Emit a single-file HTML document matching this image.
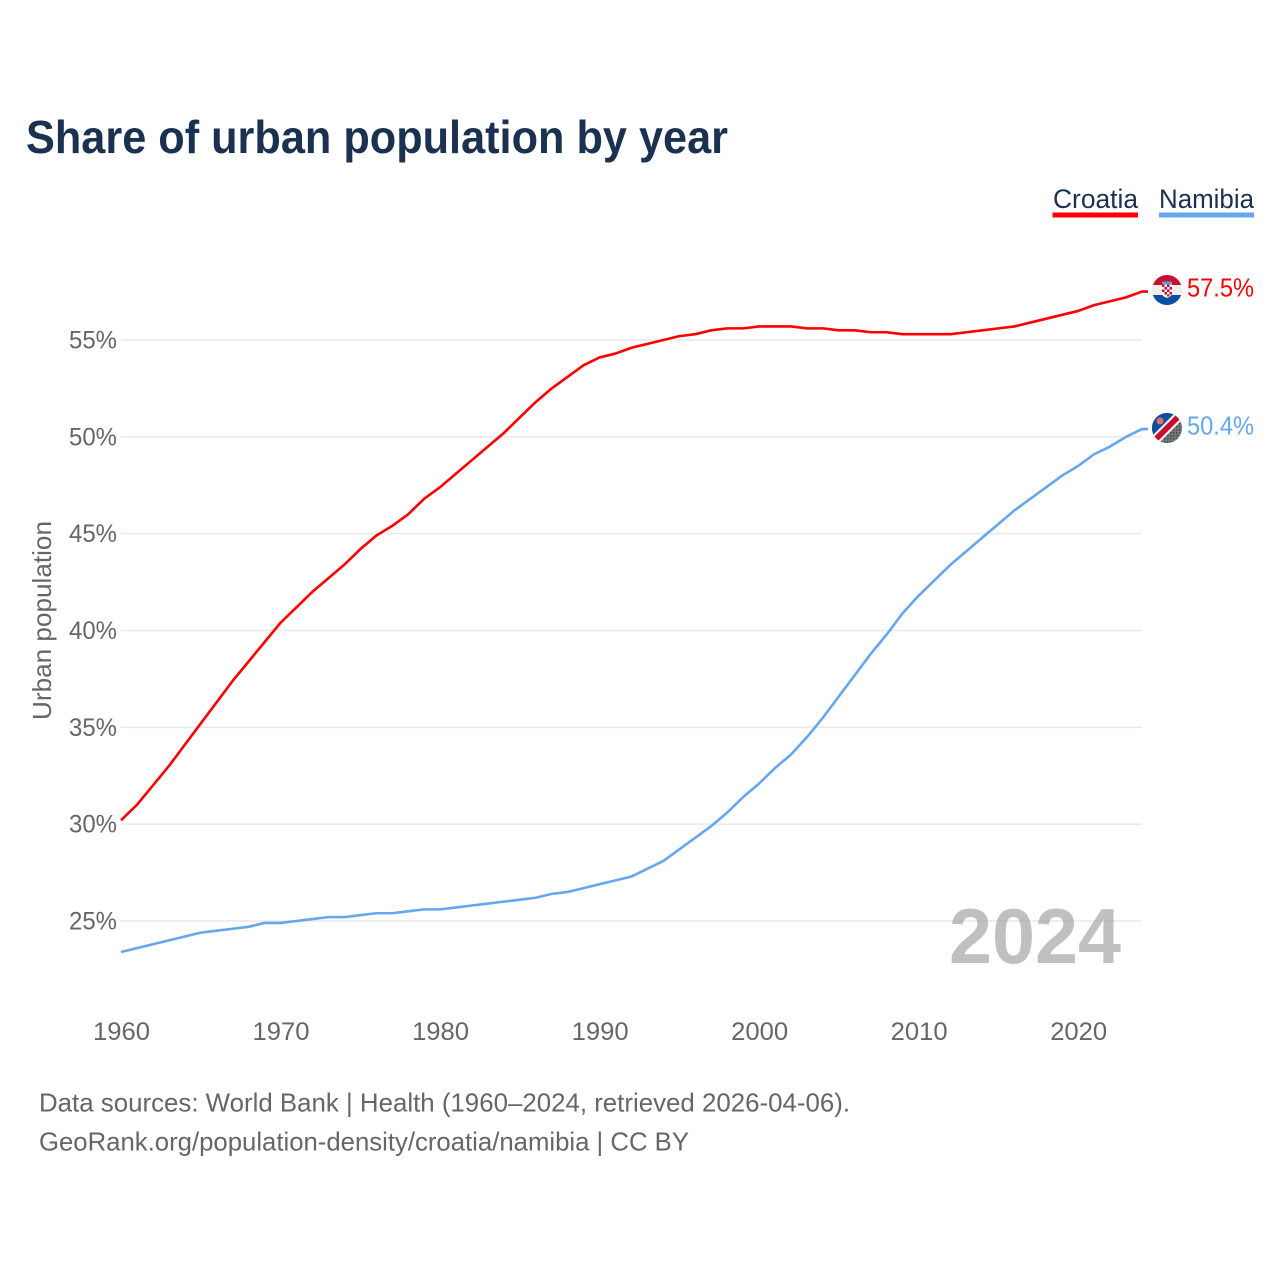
<!DOCTYPE html>
<html lang="en">
<head>
<meta charset="utf-8">
<title>Share of urban population by year</title>
<style>
html,body{margin:0;padding:0;background:#fff;}
svg{display:block;font-family:"Liberation Sans",sans-serif;}
</style>
</head>
<body>
<svg id="chart" xmlns="http://www.w3.org/2000/svg" width="1280" height="1280" viewBox="0 0 1280 1280">
  <defs>
    <clipPath id="clip-hr"><circle cx="1167" cy="290" r="15"/></clipPath>
    <clipPath id="clip-na"><circle cx="1167" cy="428" r="15"/></clipPath>
    <pattern id="na-dots" width="3" height="3" patternUnits="userSpaceOnUse">
      <rect width="3" height="3" fill="#74777c"/>
      <rect width="1.500" height="1.500" fill="#45484d"/>
    </pattern>
  </defs>
  <text x="26" y="153" font-size="46" font-weight="700" fill="#1a3150" textLength="702" lengthAdjust="spacingAndGlyphs">Share of urban population by year</text>

  <g>
    <g>
      <text x="1053" y="208" font-size="27" fill="#1a3150" textLength="85" lengthAdjust="spacingAndGlyphs">Croatia</text>
      <rect x="1052.500" y="212.500" width="85.500" height="5" fill="#ff0000"/>
    </g>
    <g>
      <text x="1159" y="208" font-size="27" fill="#1a3150" textLength="95" lengthAdjust="spacingAndGlyphs">Namibia</text>
      <rect x="1159" y="212.500" width="95" height="5" fill="#64a7ee"/>
    </g>
  </g>

  <g id="grid"></g>
  <g id="y-ticks"></g>
  <g id="x-ticks"></g>
  <text transform="translate(51 720) rotate(-90)" font-size="26" fill="#666666" textLength="199" lengthAdjust="spacingAndGlyphs">Urban population</text>

  <g id="series"></g>

  <text x="949" y="963" font-size="78" font-weight="700" fill="#999999" fill-opacity="0.62" textLength="172" lengthAdjust="spacingAndGlyphs">2024</text>

  <g clip-path="url(#clip-hr)">
    <rect x="1152" y="275" width="30" height="10" fill="#c8102e"/>
    <rect x="1152" y="285" width="30" height="10" fill="#eeeeee"/>
    <rect x="1152" y="295" width="30" height="11" fill="#0b4ea2"/>
    <rect x="1162" y="281.500" width="10" height="3" fill="#5a9bd8"/>
    <path d="M1162 284.500h10v9q0 3-5 4.500-5-1.500-5-4.500z" fill="#f4f4f4"/>
    <path d="M1162 284.500h2.500v2.500H1162zM1167 284.500h2.500v2.500H1167zM1164.500 287h2.500v2.500h-2.500zM1169.500 287h2.500v2.500h-2.500zM1162 289.500h2.500v2.500H1162zM1167 289.500h2.500v2.500H1167zM1164.500 292h2.500v2.500h-2.500zM1169.500 292h2.500v2.500h-2.500zM1167 294.500h2.500v2H1167z" fill="#c8102e"/>
  </g>
  <g clip-path="url(#clip-na)">
    <rect x="1152" y="413" width="30" height="30" fill="url(#na-dots)"/>
    <path d="M1152 413h30L1152 443z" fill="#0b4ea2"/>
    <path d="M1177 411l7 7-27 27-7-7z" fill="#f4f4f4"/>
    <path d="M1178 413l4 4-25.500 25.500-4-4z" fill="#c8102e"/>
    <circle cx="1160" cy="421" r="3.500" fill="#e8705f"/>
  </g>

  <text id="value-croatia" x="1187" y="296.500" font-size="26" fill="#ff0000" textLength="67" lengthAdjust="spacingAndGlyphs">57.5%</text>
  <text id="value-namibia" x="1187" y="434.500" font-size="26" fill="#64a7ee" textLength="67" lengthAdjust="spacingAndGlyphs">50.4%</text>

  <text x="39" y="1111.500" font-size="26" fill="#666666" textLength="811" lengthAdjust="spacingAndGlyphs">Data sources: World Bank | Health (1960–2024, retrieved 2026-04-06).</text>
  <text x="39" y="1150.500" font-size="26" fill="#666666" textLength="650" lengthAdjust="spacingAndGlyphs">GeoRank.org/population-density/croatia/namibia | CC BY</text>
</svg>
<script>
const years = [1960,1961,1962,1963,1964,1965,1966,1967,1968,1969,1970,1971,1972,1973,1974,1975,1976,1977,1978,1979,1980,1981,1982,1983,1984,1985,1986,1987,1988,1989,1990,1991,1992,1993,1994,1995,1996,1997,1998,1999,2000,2001,2002,2003,2004,2005,2006,2007,2008,2009,2010,2011,2012,2013,2014,2015,2016,2017,2018,2019,2020,2021,2022,2023,2024];
const croatia = [30.2,31.0,32.0,33.0,34.1,35.2,36.3,37.4,38.4,39.4,40.4,41.2,42.0,42.7,43.4,44.2,44.9,45.4,46.0,46.8,47.4,48.1,48.8,49.5,50.2,51.0,51.8,52.5,53.1,53.7,54.1,54.3,54.6,54.8,55.0,55.2,55.3,55.5,55.6,55.6,55.7,55.7,55.7,55.6,55.6,55.5,55.5,55.4,55.4,55.3,55.3,55.3,55.3,55.4,55.5,55.6,55.7,55.9,56.1,56.3,56.5,56.8,57.0,57.2,57.5];
const namibia = [23.4,23.6,23.8,24.0,24.2,24.4,24.5,24.6,24.7,24.9,24.9,25.0,25.1,25.2,25.2,25.3,25.4,25.4,25.5,25.6,25.6,25.7,25.8,25.9,26.0,26.1,26.2,26.4,26.5,26.7,26.9,27.1,27.3,27.7,28.1,28.7,29.3,29.9,30.6,31.4,32.1,32.9,33.6,34.5,35.5,36.6,37.7,38.8,39.8,40.9,41.8,42.6,43.4,44.1,44.8,45.5,46.2,46.8,47.4,48.0,48.5,49.1,49.5,50.0,50.4];
const yTicks = [25,30,35,40,45,50,55];
const xTicks = [1960,1970,1980,1990,2000,2010,2020];

const NS = 'http://www.w3.org/2000/svg';
const xScale = function (yr) { return 121 + (yr - 1960) * (1142 - 121) / 64; };
const yScale = function (v) { return 921 - (v - 25) * (921 - 340) / 30; };

const gridGroup = document.getElementById('grid');
const yGroup = document.getElementById('y-ticks');
const xGroup = document.getElementById('x-ticks');
const seriesGroup = document.getElementById('series');

yTicks.forEach(function (t) {
  const line = document.createElementNS(NS, 'line');
  
  
  line.setAttribute('x1', xScale(1960));
  line.setAttribute('x2', xScale(2024));
  line.setAttribute('y1', yScale(t));
  line.setAttribute('y2', yScale(t));
  line.setAttribute('stroke', '#e9e9e9');
  line.setAttribute('stroke-width', '1.5');
  gridGroup.appendChild(line);

  const label = document.createElementNS(NS, 'text');
  
  
  label.setAttribute('x', 69);
  label.setAttribute('y', yScale(t) + 8.5);
  label.setAttribute('font-size', '25');
  label.setAttribute('fill', '#666666');
  label.setAttribute('textLength', '48');
  label.setAttribute('lengthAdjust', 'spacingAndGlyphs');
  label.textContent = t + '%';
  yGroup.appendChild(label);
});

xTicks.forEach(function (t) {
  const label = document.createElementNS(NS, 'text');
  
  
  label.setAttribute('x', xScale(t) - 28);
  label.setAttribute('y', 1040);
  label.setAttribute('font-size', '25');
  label.setAttribute('fill', '#666666');
  label.setAttribute('textLength', '57');
  label.setAttribute('lengthAdjust', 'spacingAndGlyphs');
  label.textContent = t;
  xGroup.appendChild(label);
});

function pathFor(values) {
  const pts = values.map(function (v, i) {
    return xScale(years[i]).toFixed(2) + ' ' + yScale(v).toFixed(2);
  });
  const last = values[values.length - 1];
  return 'M' + pts.join('L') + 'L' + (xScale(2024) + 6).toFixed(2) + ' ' + yScale(last).toFixed(2);
}

const croatiaLine = document.createElementNS(NS, 'path');


croatiaLine.setAttribute('d', pathFor(croatia));
croatiaLine.setAttribute('fill', 'none');
croatiaLine.setAttribute('stroke', '#ff0000');
croatiaLine.setAttribute('stroke-width', '2.6');
croatiaLine.setAttribute('stroke-linejoin', 'round');
seriesGroup.appendChild(croatiaLine);

const namibiaLine = document.createElementNS(NS, 'path');


namibiaLine.setAttribute('d', pathFor(namibia));
namibiaLine.setAttribute('fill', 'none');
namibiaLine.setAttribute('stroke', '#64a7ee');
namibiaLine.setAttribute('stroke-width', '2.6');
namibiaLine.setAttribute('stroke-linejoin', 'round');
seriesGroup.appendChild(namibiaLine);
</script>
</body>
</html>
